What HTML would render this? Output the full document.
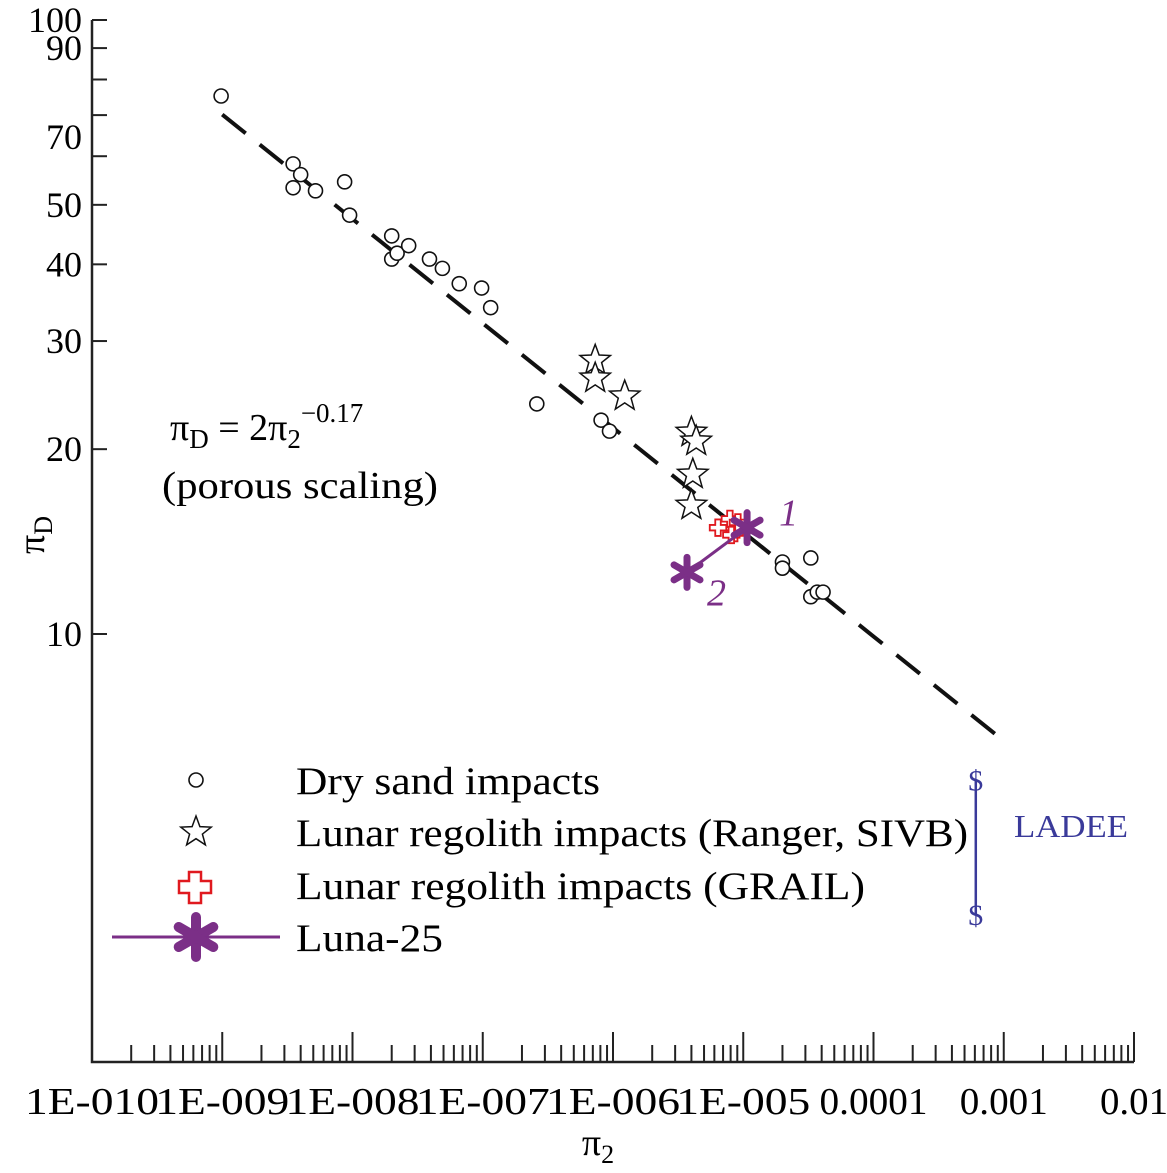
<!DOCTYPE html>
<html><head><meta charset="utf-8"><style>
html,body{margin:0;padding:0;background:#fff;}
svg{display:block;font-family:"Liberation Serif",serif;}
</style></head><body>
<svg id="chart" width="1167" height="1173" viewBox="0 0 1167 1173">
<g id="axes"></g><g id="marks"></g><g id="legend"></g>
</svg>
<script>
const xTickLabels=["1E-010","1E-009","1E-008","1E-007","1E-006","1E-005","0.0001","0.001","0.01"];
const xDecades=[-10,-9,-8,-7,-6,-5,-4,-3,-2];
const yTickValues=[100,90,80,70,60,50,40,30,20,10];
const yLabelValues=[100,90,64.5,50,40,30,20,10];
const yLabelText=["100","90","70","50","40","30","20","10"];
const sandX=[9.8e-10,3.5e-9,3.5e-9,4.0e-9,5.2e-9,8.7e-9,9.5e-9,2.0e-8,2.0e-8,2.2e-8,2.7e-8,3.9e-8,4.9e-8,6.6e-8,9.8e-8,1.15e-7,2.6e-7,8.1e-7,9.4e-7,2.0e-5,2.0e-5,3.3e-5,3.3e-5,3.7e-5,4.1e-5];
const sandY=[75.2,58.3,53.3,56,52.7,54.5,48.1,44.5,40.8,41.7,42.9,40.8,39.4,37.2,36.6,34,23.7,22.3,21.4,13.1,12.8,13.3,11.5,11.7,11.7];
const regX=[7.3e-7,7.3e-7,1.23e-6,4.0e-6,4.35e-6,4.1e-6,4.0e-6];
const regY=[27.9,26.1,24.4,21.3,20.6,18.2,16.2];
const grailX=[6.4e-6,7.9e-6,8.6e-6,8.1e-6,9.1e-6];
const grailY=[14.9,15.4,14.6,14.5,15.2];
const lunaX=[1.07e-5,3.7e-6];
const lunaY=[14.9,12.6];
const lunaLabels=["1","2"];
const ladeeX=[6.1e-4,6.1e-4];
const ladeeY=[5.8,3.5];
const fitCoef=2.07, fitExp=-0.17, fitRange=[1e-9,1e-3];

const X0=92,XD=130.25,Y10=634,YD=614,BOT=1062,RIGHT=1134;
const sx=v=>X0+(Math.log10(v)+10)*XD;
const sy=v=>Y10-(Math.log10(v)-1)*YD;
const NS="http://www.w3.org/2000/svg";
function mk(tag,attrs,parent,text){const e=document.createElementNS(NS,tag);for(const k in attrs)e.setAttribute(k,attrs[k]);if(text!==undefined)e.textContent=text;parent.appendChild(e);return e;}
const axes=document.getElementById('axes'),marks=document.getElementById('marks'),legend=document.getElementById('legend');

let a=mk('path',{d:`M${X0} 20 V${BOT} H${RIGHT}`,stroke:'#222','stroke-width':2.5,fill:'none'},axes);


const xLabW={"0.0001":108,"0.001":88,"0.01":68};
xDecades.forEach((d,i)=>{
  for(let m=1;m<=9;m++){
    const v=m*Math.pow(10,d); if(d===-2&&m>1)break; if(d===-10&&m===1)continue;
    const x=sx(v);
    const t=mk('line',{x1:x,x2:x,y1:BOT,y2:BOT-(m===1?30:17),stroke:'#222','stroke-width':2},axes);
    
    
  }
  const s=xTickLabels[i];
  const w=xLabW[s]||134;
  const lb=mk('text',{x:sx(Math.pow(10,d)),y:1114,'font-size':38,'text-anchor':'middle',textLength:w,lengthAdjust:'spacingAndGlyphs'},axes,s);
  
  
});
yTickValues.forEach(v=>{
  const t=mk('line',{x1:X0,x2:X0+15,y1:sy(v),y2:sy(v),stroke:'#222','stroke-width':2},axes);
  
  
});
yLabelValues.forEach((v,i)=>{
  const t=mk('text',{x:82,y:sy(v)+12,'font-size':36,'text-anchor':'end'},axes,yLabelText[i]);
  
  
});
let xt=mk('text',{x:598,y:1155,'font-size':38,'text-anchor':'middle'},axes);
xt.innerHTML='π<tspan font-size="26" dy="8">2</tspan>';


let yt=mk('text',{transform:'translate(44,535) rotate(-90)','font-size':38,'text-anchor':'middle'},axes);
yt.innerHTML='π<tspan font-size="26" dy="8">D</tspan>';


let eq=mk('text',{x:170,y:440,'font-size':38},axes);
eq.innerHTML='π<tspan font-size="27" dy="8">D</tspan><tspan dy="-8"> = 2π</tspan><tspan font-size="27" dy="8">2</tspan><tspan font-size="27" dy="-26">−0.17</tspan>';


let eq2=mk('text',{x:162,y:498,'font-size':38,textLength:276,lengthAdjust:'spacingAndGlyphs'},axes,'(porous scaling)');



// fit line
const fx1=fitRange[0],fx2=fitRange[1];
let fl=mk('line',{x1:sx(fx1),y1:sy(fitCoef*Math.pow(fx1,fitExp)),x2:sx(fx2),y2:sy(fitCoef*Math.pow(fx2,fitExp)),stroke:'#111','stroke-width':4,'stroke-dasharray':'30 18'},marks);



function circle(x,y,p){return mk('circle',{cx:x,cy:y,r:7,fill:'#fff',stroke:'#111','stroke-width':1.6},p);}
function starPath(x,y,R){let d='';for(let i=0;i<10;i++){const r=i%2?R*0.42:R;const an=-Math.PI/2+i*Math.PI/5;d+=(i?'L':'M')+(x+r*Math.cos(an)).toFixed(1)+' '+(y+r*Math.sin(an)).toFixed(1);}return d+'Z';}
function star(x,y,p){return mk('path',{d:starPath(x,y,16),fill:'#fff',stroke:'#111','stroke-width':1.5},p);}
function cross(x,y,p){const s=5.5;return mk('path',{d:`M${x-s/2} ${y-3*s/2}h${s}v${s}h${s}v${s}h${-s}v${s}h${-s}v${-s}h${-s}v${-s}h${s}z`,fill:'#fff',stroke:'#e0191f','stroke-width':1.8},p);}
function aster(x,y,p,s,w){const g=mk('g',{stroke:'#7b2f87','stroke-width':w,'stroke-linecap':'round'},p);for(let i=0;i<3;i++){const an=Math.PI/2+i*Math.PI/3;mk('line',{x1:x-s*Math.cos(an),y1:y-s*Math.sin(an),x2:x+s*Math.cos(an),y2:y+s*Math.sin(an)},g);}return g;}

sandX.forEach((v,i)=>{const c=circle(sx(v),sy(sandY[i]),marks);

});
regX.forEach((v,i)=>{const c=star(sx(v),sy(regY[i]),marks);

});
grailX.forEach((v,i)=>{const c=cross(sx(v),sy(grailY[i]),marks);

});
let ll=mk('line',{x1:sx(lunaX[0]),y1:sy(lunaY[0]),x2:sx(lunaX[1]),y2:sy(lunaY[1]),stroke:'#7b2f87','stroke-width':3},marks);


lunaX.forEach((v,i)=>{const g=aster(sx(v),sy(lunaY[i]),marks,15,7);


const t=mk('text',{x:sx(v)+(i?20:32),y:sy(lunaY[i])+(i?33:-2),'font-size':38,'font-style':'italic',fill:'#7b2f87'},marks,lunaLabels[i]);

});
let ld=mk('line',{x1:sx(ladeeX[0]),y1:sy(ladeeY[0]),x2:sx(ladeeX[1]),y2:sy(ladeeY[1]),stroke:'#3a3a9a','stroke-width':2.5},marks);


ladeeX.forEach((v,i)=>{const t=mk('text',{x:sx(v),y:sy(ladeeY[i])+11,'font-size':30,'text-anchor':'middle',fill:'#3a3a9a'},marks,'$');

});
let lt=mk('text',{x:1014,y:837,'font-size':32,fill:'#3a3a9a',textLength:114,lengthAdjust:'spacingAndGlyphs'},marks,'LADEE');



// legend
const legTexts=["Dry sand impacts","Lunar regolith impacts (Ranger, SIVB)","Lunar regolith impacts (GRAIL)","Luna-25"];
const legW=[304,672,569,147];
const legY=[780,832,885,937];
let e;
e=circle(196,legY[0],legend);


e=star(196,legY[1],legend);


e=mk('path',{d:`M189 872h12v9h10v12h-10v10h-12v-10h-10v-12h10z`,fill:'#fff',stroke:'#e0191f','stroke-width':2.5},legend);


e=mk('line',{x1:112,x2:280,y1:legY[3],y2:legY[3],stroke:'#7b2f87','stroke-width':3},legend);


e=aster(196,legY[3],legend,20,10);


legTexts.forEach((s,i)=>{const t=mk('text',{x:296,y:legY[i]+14,'font-size':39,textLength:legW[i],lengthAdjust:'spacingAndGlyphs'},legend,s);

});
</script>
</body></html>
